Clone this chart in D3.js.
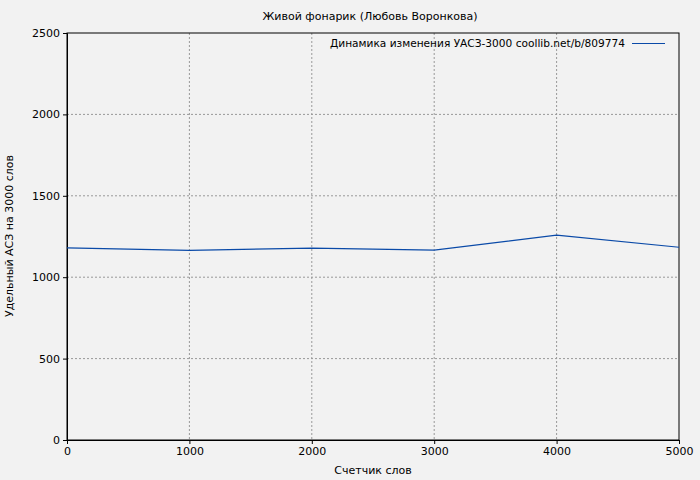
<!DOCTYPE html>
<html><head><meta charset="utf-8">
<script src="https://cdn.jsdelivr.net/npm/d3@7"></script>
<style>body{margin:0;background:#f2f2f2}text{font-family:"DejaVu Sans",sans-serif}</style>
</head><body><svg width="700" height="480"></svg>
<script>
const words = [0, 1000, 2000, 3000, 4000, 5000];
const values = [1180, 1165, 1178, 1166, 1259, 1184];
const xTicks = [0, 1000, 2000, 3000, 4000, 5000];
const yTicks = [0, 500, 1000, 1500, 2000, 2500];

const m = { l: 67, r: 21, t: 33, b: 40 };
const W = 700, H = 480;
const svg = d3.select("svg");
svg.append("rect").attr("width", W).attr("height", H).attr("fill", "#f2f2f2");

const x = d3.scaleLinear().domain([0, 5000]).range([m.l, W - m.r]);
const y = d3.scaleLinear().domain([0, 2500]).range([H - m.b, m.t]);

const grid = svg.append("g").attr("stroke", "#999").attr("stroke-dasharray", "2,2");
xTicks.slice(1, -1).forEach(t => grid.append("line").attr("x1", x(t)).attr("x2", x(t)).attr("y1", m.t).attr("y2", H - m.b));
yTicks.slice(1, -1).forEach(t => grid.append("line").attr("y1", y(t)).attr("y2", y(t)).attr("x1", m.l).attr("x2", W - m.r));

svg.append("g").attr("transform", `translate(0,${H - m.b})`)
  .call(d3.axisBottom(x).tickValues(xTicks).tickSize(4).tickFormat(d3.format("d")))
  .call(g => g.selectAll("text").attr("font-size", 11).attr("fill", "#000"));
svg.append("g").attr("transform", `translate(${m.l},0)`)
  .call(d3.axisLeft(y).tickValues(yTicks).tickSize(4).tickFormat(d3.format("d")))
  .call(g => g.selectAll("text").attr("font-size", 11).attr("fill", "#000"));
svg.append("rect").attr("x", m.l).attr("y", m.t).attr("width", W - m.l - m.r).attr("height", H - m.t - m.b)
  .attr("fill", "none").attr("stroke", "#000");

svg.append("path").datum(words.map((w, i) => [w, values[i]]))
  .attr("d", d3.line().x(d => x(d[0])).y(d => y(d[1])))
  .attr("fill", "none").attr("stroke", "#0a4aa8").attr("stroke-width", 1.2);

svg.append("text").attr("x", 370).attr("y", 20).attr("text-anchor", "middle").attr("font-size", 11).text("Живой фонарик (Любовь Воронкова)");
svg.append("text").attr("x", 373).attr("y", 474).attr("text-anchor", "middle").attr("font-size", 11).text("Счетчик слов");
svg.append("text").attr("transform", "translate(13,236) rotate(-90)").attr("text-anchor", "middle").attr("font-size", 11).text("Удельный АСЗ на 3000 слов");
svg.append("text").attr("x", 625).attr("y", 47).attr("text-anchor", "end").attr("font-size", 11)
  .attr("textLength", 295).attr("lengthAdjust", "spacingAndGlyphs").text("Динамика изменения УАСЗ-3000 coollib.net/b/809774");
svg.append("line").attr("x1", 632).attr("x2", 665).attr("y1", 43.5).attr("y2", 43.5).attr("stroke", "#0a4aa8").attr("stroke-width", 1.2);
</script></body></html>
